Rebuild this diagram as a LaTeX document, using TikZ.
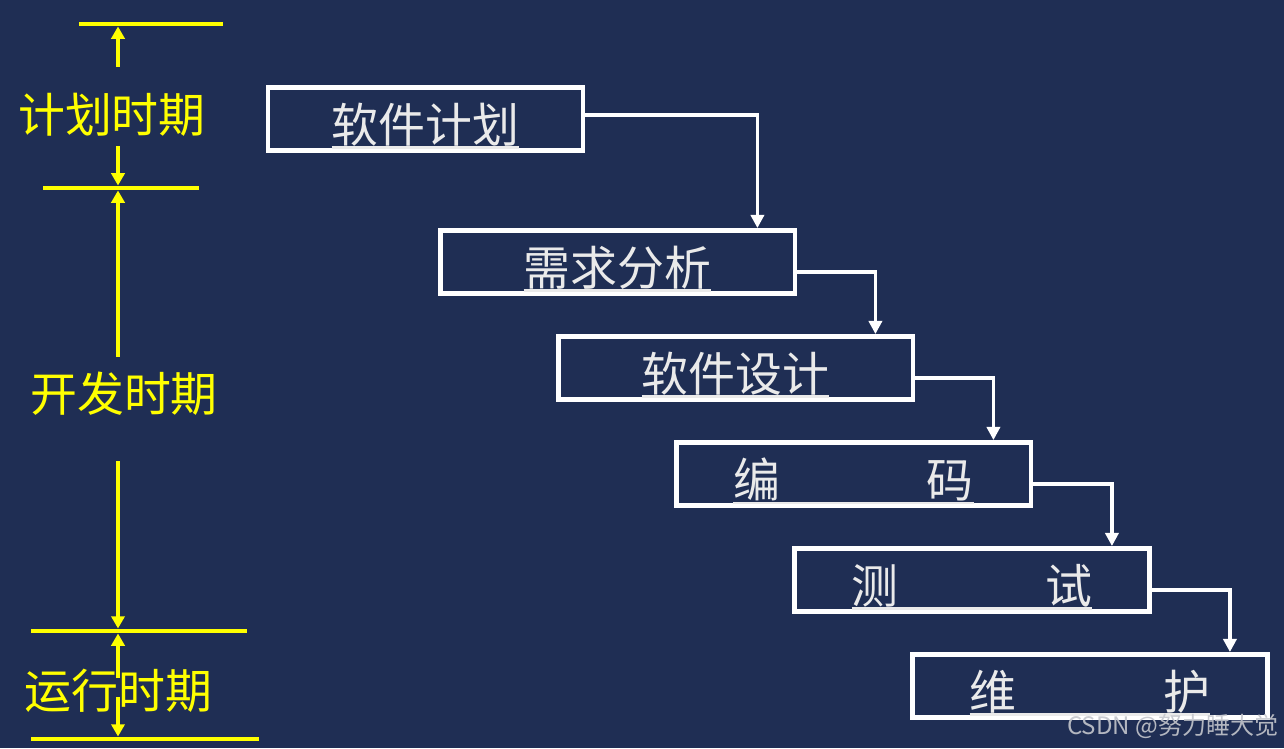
\documentclass[tikz,border=0pt]{standalone}
\usepackage{fontspec}
\setmainfont{Liberation Sans}
\newfontfamily\cjk{Noto Sans CJK SC}
\usetikzlibrary{positioning,calc,arrows.meta}
\definecolor{navy}{RGB}{31,46,84}
\definecolor{ylw}{RGB}{255,255,0}
\definecolor{pale}{RGB}{234,234,234}
\definecolor{wgray}{RGB}{196,198,204}
\newcommand\stageul[1]{\setbox0\hbox{#1}%
  \raisebox{-3pt}[\ht0][\dp0]{\copy0\llap{\vrule width\wd0 height -2.4pt depth 3.9pt}}}
\tikzset{
  stage/.style   = {draw=white, line width=2.8pt, minimum width=7.1cm,
                    minimum height=1.26cm, inner sep=0pt, text=pale,
                    font=\cjk\fontsize{26.7}{30}\selectfont},
  flow/.style    = {draw=white, line width=2.2pt,
                    -{Triangle[length=7.5pt,width=7.5pt]}},
  bar/.style     = {draw=ylw, line width=2.8pt},
  ywire/.style   = {draw=ylw, line width=2.3pt,
                    -{Triangle[length=7pt,width=7.5pt]}, shorten >=1.4pt},
  period/.style  = {text=ylw, inner sep=0pt,
                    font=\cjk\fontsize{26.7}{30}\selectfont},
  wmark/.style   = {text=wgray, inner sep=0pt, opacity=0.9,
                    font=\cjk\fontsize{13.7}{16}\selectfont},
}
\begin{document}
\begin{tikzpicture}[x=0.02cm,y=-0.02cm]
  \fill[navy] (0,0) rectangle (1284,748);
  \useasboundingbox (0,0) rectangle (1284,748);
  \node[stage, minimum width=6.3cm] (plan) at (425.5,119) {\stageul{软件计划}};
  \node[stage] (req)  at (617.5,262) {\stageul{需求分析}};
  \node[stage] (des)  at (735.5,368) {\stageul{软件设计}};
  \node[stage] (code) at (853.5,474) {\stageul{编\hspace{3.13em}码}};
  \node[stage] (test) at (972,580)   {\stageul{测\hspace{3.13em}试}};
  \node[stage] (mnt)  at (1090,686)  {\stageul{维\hspace{3.13em}护}};
  \draw[flow] ([yshift=0.08cm]plan.east) -| ($(req.north east)+(-40,0)$);
  \draw[flow] ([yshift=-0.2cm]req.east) -| ($(des.north east)+(-40,0)$);
  \draw[flow] ([yshift=-0.2cm]des.east) -| ($(code.north east)+(-40,0)$);
  \draw[flow] ([yshift=-0.2cm]code.east) -| ($(test.north east)+(-40,0)$);
  \draw[flow] ([yshift=-0.2cm]test.east) -| ($(mnt.north east)+(-40,0)$);
  \coordinate (bar1w) at (79,24);  \coordinate (bar1e) at (223,24);
  \coordinate (bar2w) at (43,188); \coordinate (bar2e) at (199,188);
  \coordinate (bar3w) at (31,631); \coordinate (bar3e) at (247,631);
  \coordinate (bar4w) at (31,739); \coordinate (bar4e) at (259,739);
  \draw[bar] (bar1w) -- (bar1e);
  \draw[bar] (bar2w) -- (bar2e);
  \draw[bar] (bar3w) -- (bar3e);
  \draw[bar] (bar4w) -- (bar4e);
  \coordinate (s1) at (118,67);  \coordinate (s2) at (118,146);
  \coordinate (s3) at (118,357); \coordinate (s4) at (118,461);
  \coordinate (s5) at (118,678); \coordinate (s6) at (118,697);
  \draw[ywire] (s1) -- (s1 |- bar1w);
  \draw[ywire] (s2) -- (s2 |- bar2w);
  \draw[ywire] (s3) -- (s3 |- bar2w);
  \draw[ywire] (s4) -- (s4 |- bar3w);
  \draw[ywire] (s5) -- (s5 |- bar3w);
  \draw[ywire] (s6) -- (s6 |- bar4w);
  \node[period] (plan period) at (112,115) {计划时期};
  \node[period] (dev period)  at (124,394) {开发时期};
  \node[period] (run period)  at (118.5,691) {运行时期};
  \node[wmark, anchor=east] (wm) at (1279,726) {CSDN @努力睡大觉};
\end{tikzpicture}
\end{document}
